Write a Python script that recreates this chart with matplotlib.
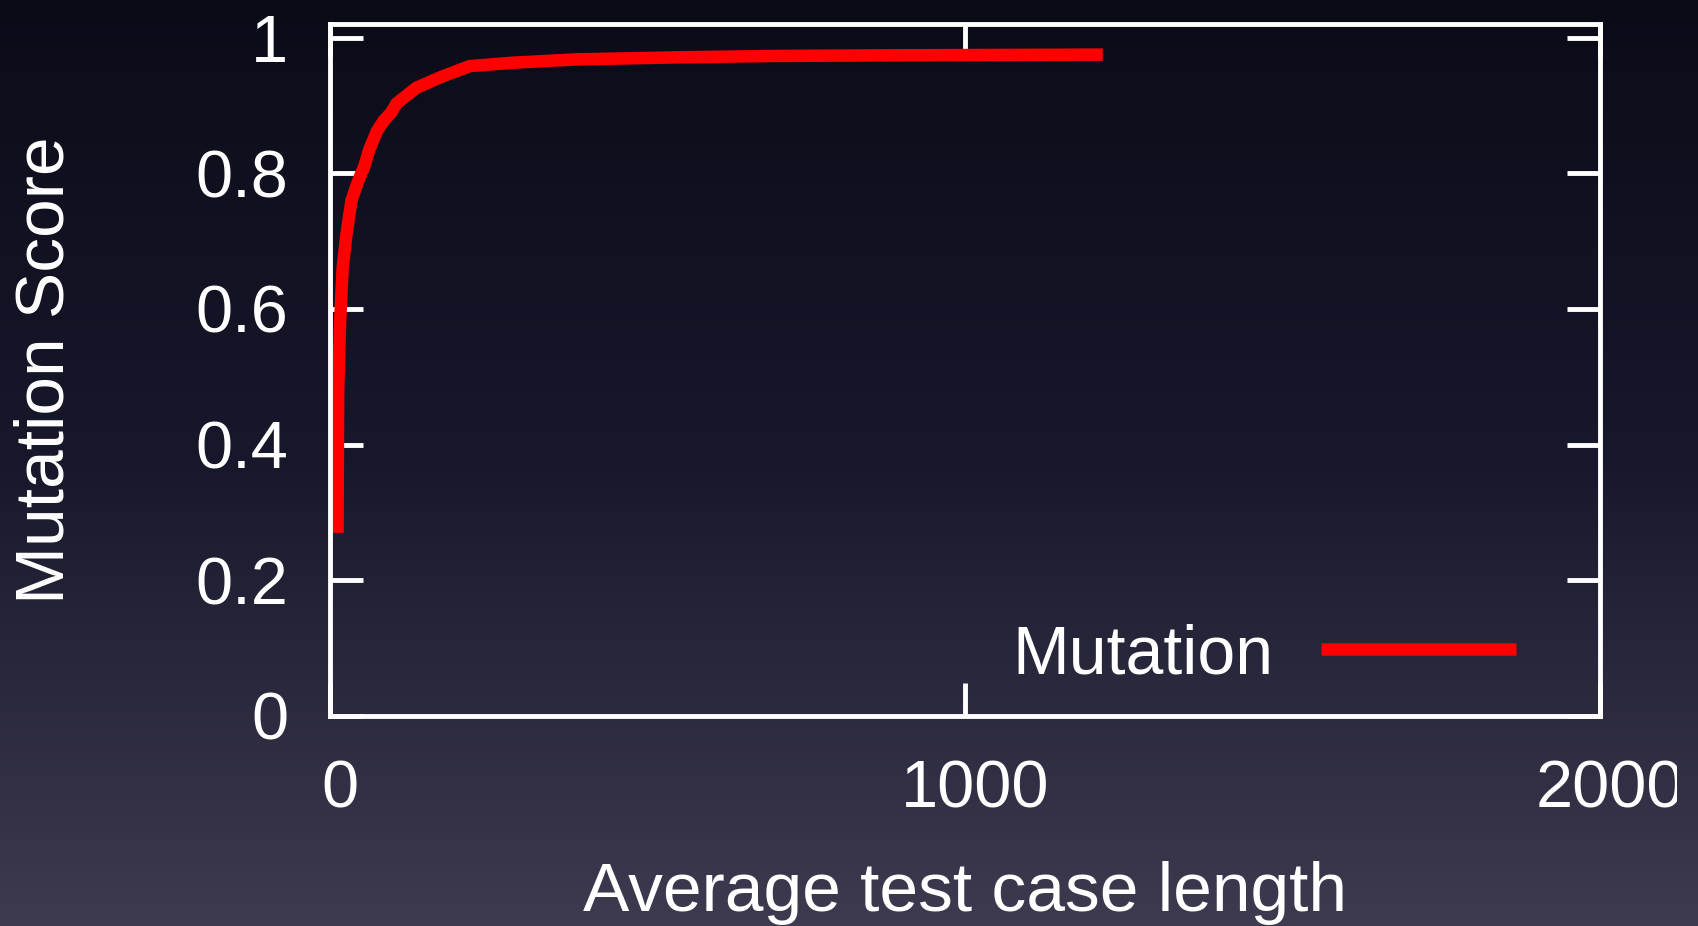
import numpy as np
import matplotlib.pyplot as plt
from matplotlib.colors import LinearSegmentedColormap
from matplotlib.transforms import ScaledTranslation, Bbox, TransformedBbox

# data
avg_length = [12, 13, 16, 20, 26, 34, 45, 54, 62, 74, 85, 96, 105, 136, 175,
              220, 287, 390, 550, 700, 900, 1217]
mutation_score = [0.27, 0.48, 0.58, 0.66, 0.71, 0.76, 0.79, 0.81, 0.835, 0.862,
                  0.878, 0.889, 0.903, 0.926, 0.942, 0.958, 0.963, 0.968,
                  0.971, 0.973, 0.974, 0.975]
x_ticks = [0, 1000, 2000]
y_ticks = [0, 0.2, 0.4, 0.6, 0.8, 1]
y_tick_labels = ['0', '0.2', '0.4', '0.6', '0.8', '1']

plt.rcParams['font.family'] = ['Liberation Sans', 'DejaVu Sans']

fig = plt.figure(figsize=(16.98, 9.26), dpi=100)

# gradient background
bg = fig.add_axes([0, 0, 1, 1], zorder=-10)
cmap = LinearSegmentedColormap.from_list(
    'bg', [(0, '#0b0b18'), (0.5, '#18182c'), (1, '#3e3a50')])
bg.imshow(np.linspace(0, 1, 256).reshape(-1, 1), aspect='auto', cmap=cmap,
          extent=[0, 1, 0, 1])
bg.axis('off')

ax = fig.add_axes([0.1943, 0.2268, 0.9423 - 0.1943, 0.974 - 0.2268])
ax.patch.set_alpha(0)
ax.plot(avg_length, mutation_score, color='#ff0000', lw=9,
        solid_joinstyle='miter', solid_capstyle='butt', label='Mutation')

ax.set_xlim(0, 2000)
ax.set_ylim(0, 1.02)
ax.set_xticks(x_ticks)
ax.set_xticklabels([str(t) for t in x_ticks])
ax.set_yticks(y_ticks)
ax.set_yticklabels(y_tick_labels)

for s in ax.spines.values():
    s.set_color('white')
    s.set_linewidth(3.5)
ax.tick_params(direction='in', length=24, width=3.5, color='white',
               top=True, right=True, labelcolor='white', labelsize=48)
ax.tick_params(axis='y', pad=30)
ax.tick_params(axis='x', pad=31)

shift = ScaledTranslation(10 / 100, 0, fig.dpi_scale_trans)
clip = TransformedBbox(Bbox([[0, 0], [1677 / 1698, 1]]), fig.transFigure)
for lab in ax.get_xticklabels():
    lab.set_transform(lab.get_transform() + shift)
    lab.set_clip_on(True)
    lab.set_clip_box(clip)

ax.set_xlabel('Average test case length', color='white', fontsize=50, va='center')
ax.xaxis.set_label_coords(0.5, -0.256)
ax.set_ylabel('Mutation Score', color='white', fontsize=50, va='center')
ax.yaxis.set_label_coords(-0.224, 0.5)

leg = ax.legend(loc='center right', bbox_to_anchor=(0.934, 0.088),
                frameon=False, markerfirst=False, fontsize=49,
                handlelength=2.87, handletextpad=0.7, borderpad=0,
                borderaxespad=0)
for t in leg.get_texts():
    t.set_color('white')

plt.savefig('out.png', dpi=100)
